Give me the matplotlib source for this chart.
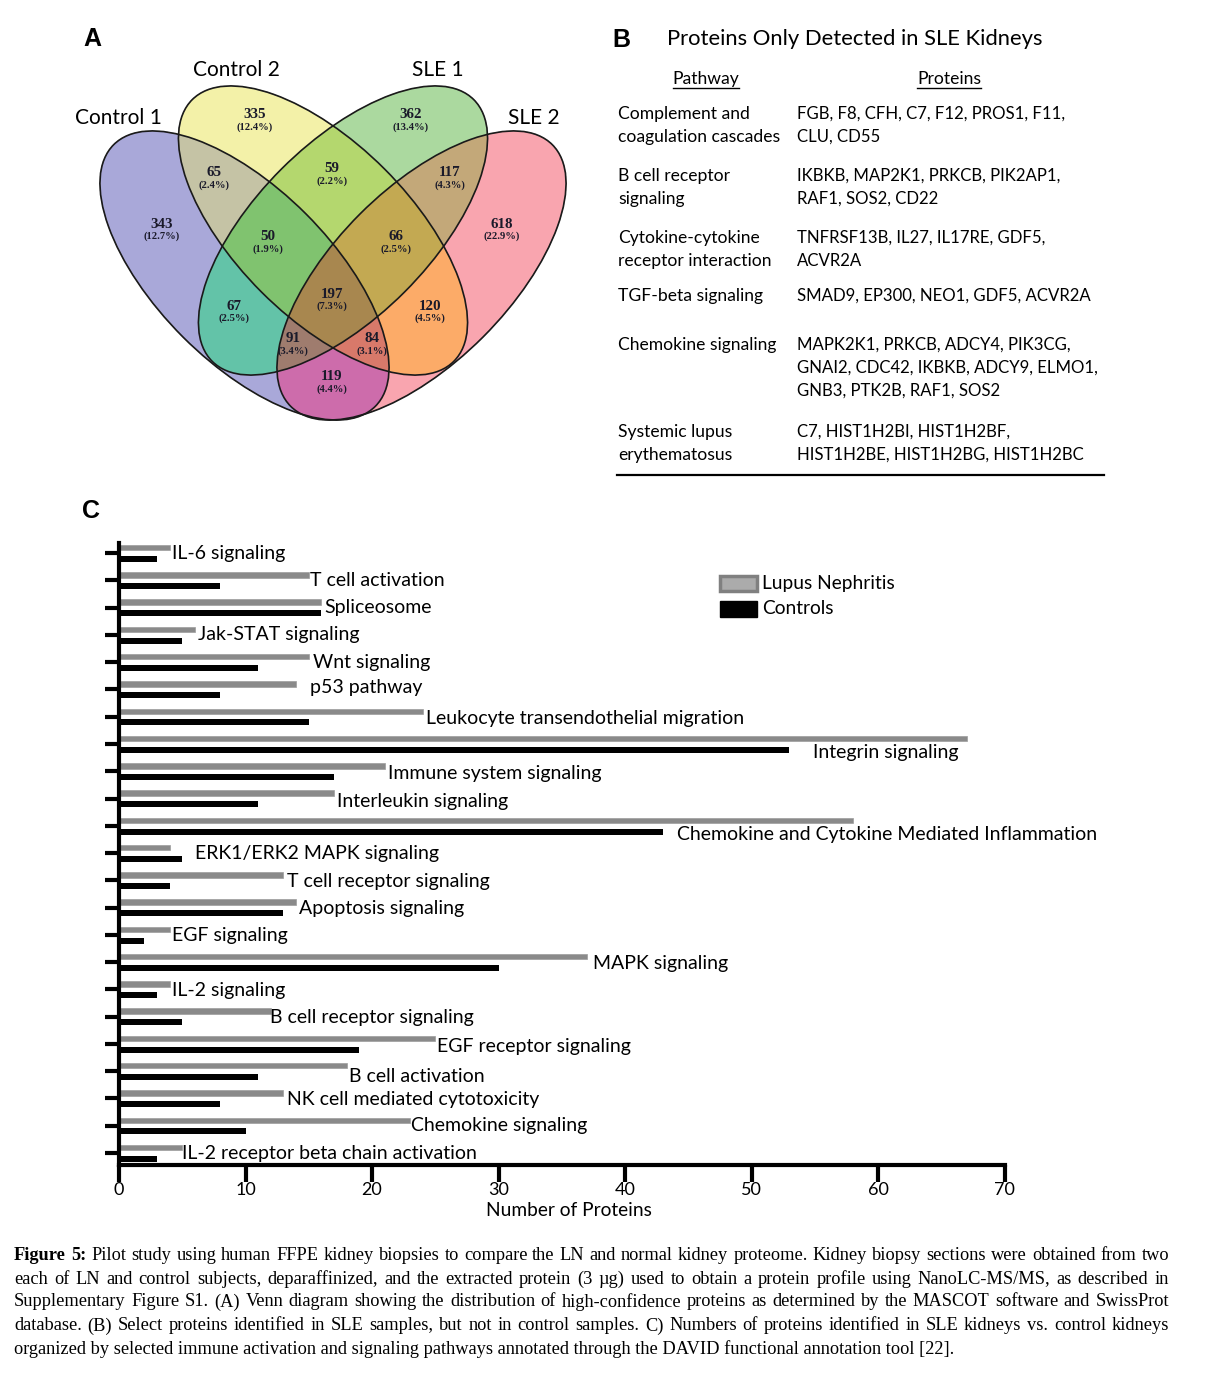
import matplotlib
matplotlib.use('Agg')
import matplotlib.pyplot as plt
from matplotlib.patches import Ellipse, Rectangle
from matplotlib.colors import to_rgb
import numpy as np

# ---------------- data ----------------
set_names = ['Control 1', 'Control 2', 'SLE 1', 'SLE 2']
region_keys = ['A', 'B', 'C', 'D', 'AB', 'BC', 'CD', 'ABC', 'BCD', 'ABCD',
               'AC', 'BD', 'ACD', 'ABD', 'AD']
region_counts = [343, 335, 362, 618, 65, 59, 117, 50, 66, 197, 67, 120, 91, 84, 119]

table_title = 'Proteins Only Detected in SLE Kidneys'
pathways = [['Complement and', 'coagulation cascades'],
            ['B cell receptor', 'signaling'],
            ['Cytokine-cytokine', 'receptor interaction'],
            ['TGF-beta signaling'],
            ['Chemokine signaling'],
            ['Systemic lupus', 'erythematosus']]
proteins = [['FGB, F8, CFH, C7, F12, PROS1, F11,', 'CLU, CD55'],
            ['IKBKB, MAP2K1, PRKCB, PIK2AP1,', 'RAF1, SOS2, CD22'],
            ['TNFRSF13B, IL27, IL17RE, GDF5,', 'ACVR2A'],
            ['SMAD9, EP300, NEO1, GDF5, ACVR2A'],
            ['MAPK2K1, PRKCB, ADCY4, PIK3CG,', 'GNAI2, CDC42, IKBKB, ADCY9, ELMO1,',
             'GNB3, PTK2B, RAF1, SOS2'],
            ['C7, HIST1H2BI, HIST1H2BF,', 'HIST1H2BE, HIST1H2BG, HIST1H2BC']]

categories = ['IL-6 signaling', 'T cell activation', 'Spliceosome', 'Jak-STAT signaling',
              'Wnt signaling', 'p53 pathway', 'Leukocyte transendothelial migration',
              'Integrin signaling', 'Immune system signaling', 'Interleukin signaling',
              'Chemokine and Cytokine Mediated Inflammation', 'ERK1/ERK2 MAPK signaling',
              'T cell receptor signaling', 'Apoptosis signaling', 'EGF signaling',
              'MAPK signaling', 'IL-2 signaling', 'B cell receptor signaling',
              'EGF receptor signaling', 'B cell activation', 'NK cell mediated cytotoxicity',
              'Chemokine signaling', 'IL-2 receptor beta chain activation']
lupus = [4, 15, 16, 6, 15, 14, 24, 67, 21, 17, 58, 4, 13, 14, 4, 37, 4, 12, 25, 18, 13, 23, 5]
controls = [3, 8, 16, 5, 11, 8, 15, 53, 17, 11, 43, 5, 4, 13, 2, 30, 3, 5, 19, 11, 8, 10, 3]
series_names = ['Lupus Nephritis', 'Controls']
x_ticks = [0, 10, 20, 30, 40, 50, 60, 70]
x_label = 'Number of Proteins'

caption_lines = [
    'Figure 5: Pilot study using human FFPE kidney biopsies to compare the LN and normal kidney proteome. Kidney biopsy sections were obtained from two',
    'each of LN and control subjects, deparaffinized, and the extracted protein (3 \u00b5g) used to obtain a protein profile using NanoLC-MS/MS, as described in',
    'Supplementary Figure S1.  (A) Venn diagram showing the distribution of high-confidence proteins as determined by the MASCOT software and SwissProt',
    'database. (B) Select proteins identified in SLE samples, but not in control samples. C) Numbers of proteins identified in SLE kidneys vs. control kidneys',
    'organized by selected immune activation and signaling pathways annotated through the DAVID functional annotation tool [22].',
]

# ---------------- layout / style ----------------
W, H = 1216, 1377
SANS = ['Lato', 'DejaVu Sans']
SERIF = ['Liberation Serif', 'DejaVu Serif']

fig = plt.figure(figsize=(W / 100, H / 100), dpi=100)
ax0 = fig.add_axes([0, 0, 1, 1])

# ---- Panel A: Venn ----
ell_a, ell_b = 185, 87
ell_centers = [(244.5, 275.5), (323, 230.5), (343, 230.5), (421.5, 275.5)]
ell_angles = [45, 45, -45, -45]
set_letters = ['A', 'B', 'C', 'D']
region_colors = {'A': '#aaa8da', 'B': '#f4f2a8', 'C': '#acdaa0', 'D': '#faa5af',
                 'AB': '#c6c4a5', 'BC': '#b4d76e', 'CD': '#c4a87a',
                 'ABC': '#80c470', 'BCD': '#c4aa52', 'ABCD': '#a88750',
                 'AC': '#64c4a8', 'BD': '#fcac68', 'ACD': '#a07d6e',
                 'ABD': '#d87a6a', 'AD': '#cd6cac'}

gx0, gx1, gy0, gy1, step = 88, 582, 80, 428, 0.5
xs = np.arange(gx0, gx1, step) + step / 2
ys = np.arange(gy0, gy1, step) + step / 2
X, Y = np.meshgrid(xs, ys)
inside = []
for (cx, cy), ang in zip(ell_centers, ell_angles):
    t = np.deg2rad(ang)
    dx, dy = X - cx, Y - cy
    u = dx * np.cos(t) + dy * np.sin(t)
    v = -dx * np.sin(t) + dy * np.cos(t)
    inside.append((u / ell_a) ** 2 + (v / ell_b) ** 2 <= 1)
rgba = np.zeros(X.shape + (4,))
for key, col in region_colors.items():
    mask = np.ones(X.shape, bool)
    for letter, ins in zip(set_letters, inside):
        mask &= ins if letter in key else ~ins
    rgba[mask, :3] = to_rgb(col)
    rgba[mask, 3] = 1.0
ax0.imshow(rgba, extent=(gx0, gx1, gy1, gy0), origin='upper', interpolation='bilinear',
           zorder=1)
for (cx, cy), ang in zip(ell_centers, ell_angles):
    ax0.add_patch(Ellipse((cx, cy), 2 * ell_a, 2 * ell_b, angle=ang,
                          facecolor='none', edgecolor='#1a1a1a', lw=1.2, zorder=2))

ax0.set_xlim(0, W)
ax0.set_ylim(H, 0)
ax0.set_aspect('auto')
ax0.axis('off')

region_pos = {'A': (162, 224), 'B': (255, 115), 'C': (411, 115), 'D': (502, 224),
              'AB': (214, 173), 'BC': (332, 169), 'CD': (450, 173),
              'ABC': (268, 237), 'BCD': (396, 237), 'ABCD': (332, 294),
              'AC': (234, 306), 'BD': (430, 306), 'ACD': (293, 339),
              'ABD': (372, 339), 'AD': (332, 377)}
total = sum(region_counts)
for key, cnt in zip(region_keys, region_counts):
    x, y = region_pos[key]
    ax0.text(x, y, str(cnt), family=SERIF, fontweight='bold', fontsize=10.8,
             ha='center', va='center', color='#1a1a2a', zorder=3)
    ax0.text(x, y + 12.5, '(%.1f%%)' % (100.0 * cnt / total), family=SERIF,
             fontweight='bold', fontsize=7.6, ha='center', va='center',
             color='#1a1a2a', zorder=3)

set_label_pos = [(118, 118), (236, 70), (438, 70), (534, 118)]
for name, (x, y) in zip(set_names, set_label_pos):
    ax0.text(x, y, name, family=SANS, fontsize=15, ha='center', va='center')

panel_font = ['Liberation Sans', 'DejaVu Sans']
ax0.text(92, 39, 'A', family=panel_font, fontweight='bold', fontsize=18, ha='center', va='center')
ax0.text(621, 40, 'B', family=panel_font, fontweight='bold', fontsize=18, ha='center', va='center')
ax0.text(91, 511, 'C', family=panel_font, fontweight='bold', fontsize=18, ha='center', va='center')

# ---- Panel B: table ----
ax0.text(667, 39, table_title, family=SANS, fontsize=15.8, ha='left', va='center')
hdr1 = ax0.text(706, 79, 'Pathway', family=SANS, fontsize=12.6, ha='center', va='center')
hdr2 = ax0.text(949, 79, 'Proteins', family=SANS, fontsize=12.6, ha='center', va='center')
row_y = [114, 176, 238, 296, 345, 432]
line_step = 22.7
for ry, pw, pr in zip(row_y, pathways, proteins):
    for k, s in enumerate(pw):
        ax0.text(618, ry + k * line_step, s, family=SANS, fontsize=12.6, ha='left', va='center')
    for k, s in enumerate(pr):
        ax0.text(797, ry + k * line_step, s, family=SANS, fontsize=12.1, ha='left', va='center')
ax0.plot([617, 1104], [475, 475], color='black', lw=1.6)

# ---- Panel C: bar chart ----
x0_px, x1_px = 119, 1004.5
y0_px, y1_px = 543, 1165
axb = fig.add_axes([x0_px / W, 1 - y1_px / H, (x1_px - x0_px) / W, (y1_px - y0_px) / H])
axb.patch.set_alpha(0)
n = len(categories)
yy = np.arange(n)
axb.barh(yy - 0.2, lupus, height=0.2, color='#8a8a8a', edgecolor='#9d9d9d', linewidth=0.5)
axb.barh(yy + 0.21, controls, height=0.22, color='black')
axb.set_xlim(0, 70)
axb.set_ylim(n - 1 + 0.44, -0.37)
for s in ['top', 'right']:
    axb.spines[s].set_visible(False)
for s in ['left', 'bottom']:
    axb.spines[s].set_linewidth(3)
axb.set_yticks(yy)
axb.set_yticklabels([])
axb.tick_params(axis='y', direction='out', length=10, width=3)
axb.set_xticks(x_ticks)
axb.set_xticklabels([str(v) for v in x_ticks], family=SANS, fontsize=13)
axb.tick_params(axis='x', direction='out', length=12, width=3, pad=0)

label_x = [4.2, 15.1, 16.2, 6.25, 15.3, 15.1, 24.3, 54.9, 21.3, 17.2, 44.1, 6.0, 13.3,
           14.2, 4.2, 37.5, 4.2, 11.9, 25.1, 18.2, 13.3, 23.1, 5.0]
label_dy = [0, 0, 0, 0, 0, -0.07, 0.05, 0.3, 0.1, 0.1, 0.33, 0, 0.05, 0.05, 0.03, 0.05,
            0.03, 0.03, 0.1, 0.18, 0.05, 0, 0]
for i, name in enumerate(categories):
    axb.text(label_x[i], i + label_dy[i], name, family=SANS, fontsize=14,
             ha='left', va='center', clip_on=False)

ax0.text(569, 1211, x_label, family=SANS, fontsize=13.8, ha='center', va='center')

# legend
ax0.add_patch(Rectangle((720, 576), 37, 15, facecolor='#ababab', edgecolor='#808080', lw=2.5))
ax0.add_patch(Rectangle((720, 601), 37, 16, facecolor='black', edgecolor='black', lw=1))
ax0.text(762, 584, series_names[0], family=SANS, fontsize=13.8, ha='left', va='center')
ax0.text(762, 609, series_names[1], family=SANS, fontsize=13.8, ha='left', va='center')

# ---- underline headers & caption (need renderer) ----
fig.canvas.draw()
renderer = fig.canvas.get_renderer()
for t in (hdr1, hdr2):
    bb = t.get_window_extent(renderer)
    ax0.plot([bb.x0, bb.x1], [88, 88], color='black', lw=1.0)

cap_left, cap_right = 14, 1169
cap_y = [1255, 1279, 1302, 1326, 1349]
probe = ax0.text(0, 0, caption_lines[-1], family=SERIF, fontsize=12)
wlast = probe.get_window_extent(renderer).width
probe.remove()
cap_fs = 12 * 939.0 / wlast

for li, (line, y) in enumerate(zip(caption_lines, cap_y)):
    if li == len(caption_lines) - 1:
        ax0.text(cap_left, y, line, family=SERIF, fontsize=cap_fs, ha='left', va='center')
        continue
    words = line.split()
    objs = []
    for wi, wd in enumerate(words):
        bold = (li == 0 and wi < 2)
        t = ax0.text(0, y, wd, family=SERIF, fontsize=cap_fs, ha='left', va='center',
                     fontweight='bold' if bold else 'normal')
        objs.append(t)
    widths = [t.get_window_extent(renderer).width for t in objs]
    gap = (cap_right - cap_left - sum(widths)) / (len(words) - 1)
    x = cap_left
    for t, w in zip(objs, widths):
        t.set_x(x)
        x += w + gap

fig.savefig('out.png', dpi=100)
